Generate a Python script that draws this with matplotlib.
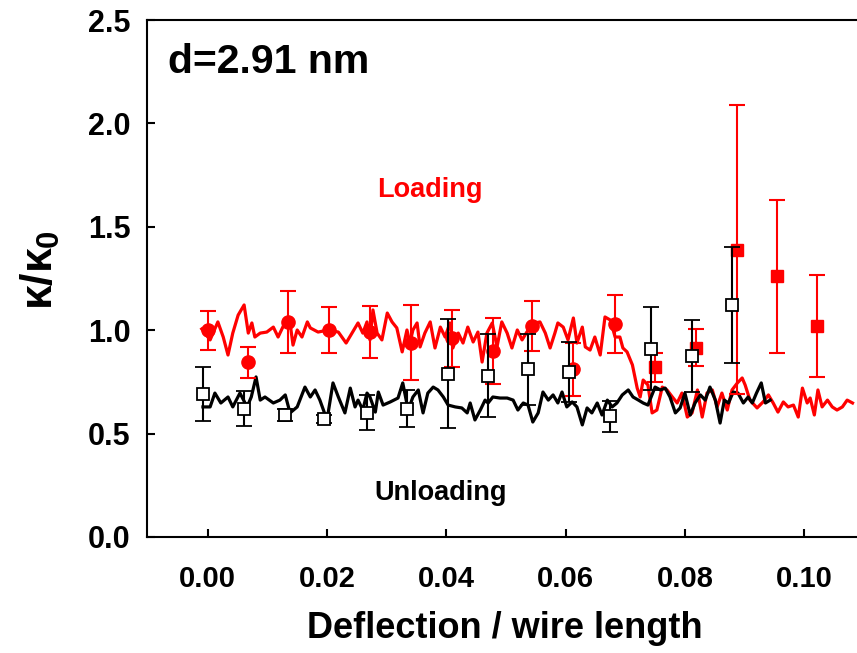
import matplotlib
matplotlib.use("Agg")
import matplotlib.pyplot as plt
from matplotlib import font_manager

# ---- data -------------------------------------------------------------
# continuous loading trace (red)
loading_x = [-0.0010, 0.0004, 0.0009, 0.0017, 0.0026, 0.0034, 0.0042, 0.0051, 0.0061, 0.0068,
             0.0074, 0.0079, 0.0088, 0.0099, 0.0110, 0.0118, 0.0130, 0.0138, 0.0143, 0.0150,
             0.0158, 0.0167, 0.0172, 0.0185, 0.0202, 0.0219, 0.0232, 0.0242, 0.0252, 0.0260,
             0.0267, 0.0272, 0.0277, 0.0284, 0.0292, 0.0301, 0.0309, 0.0317, 0.0326, 0.0334,
             0.0339, 0.0344, 0.0351, 0.0356, 0.0364, 0.0373, 0.0381, 0.0390, 0.0398, 0.0406,
             0.0411, 0.0420, 0.0428, 0.0436, 0.0445, 0.0453, 0.0460, 0.0468, 0.0477, 0.0485,
             0.0493, 0.0502, 0.0510, 0.0519, 0.0527, 0.0535, 0.0540, 0.0549, 0.0557, 0.0566,
             0.0574, 0.0582, 0.0587, 0.0596, 0.0604, 0.0613, 0.0619, 0.0628, 0.0633, 0.0641,
             0.0649, 0.0658, 0.0666, 0.0675, 0.0683, 0.0691, 0.0696, 0.0703, 0.0712, 0.0720,
             0.0725, 0.0730, 0.0738, 0.0745, 0.0753, 0.0762, 0.0770, 0.0779, 0.0787, 0.0795,
             0.0804, 0.0812, 0.0821, 0.0829, 0.0837, 0.0846, 0.0854, 0.0862, 0.0871, 0.0879,
             0.0888, 0.0896, 0.0901, 0.0909, 0.0921, 0.0931, 0.0940, 0.0948, 0.0956, 0.0965,
             0.0973, 0.0982, 0.0990, 0.0997, 0.1005, 0.1010, 0.1017, 0.1023, 0.1030, 0.1039,
             0.1047, 0.1055, 0.1064, 0.1072, 0.1081]
loading_y = [1.006, 0.953, 0.986, 1.040, 0.967, 0.880, 0.986, 1.073, 1.122, 0.986,
             1.035, 0.967, 0.986, 0.991, 1.015, 0.967, 1.040, 1.035, 0.928, 1.001,
             0.967, 1.040, 1.011, 0.991, 1.001, 0.991, 0.938, 0.986, 1.035, 0.986,
             1.040, 0.953, 1.098, 0.986, 0.953, 1.083, 1.040, 1.011, 0.895, 1.001,
             0.938, 1.001, 1.035, 0.919, 0.986, 1.040, 0.914, 1.015, 0.967, 1.035,
             0.914, 0.986, 0.938, 1.015, 0.943, 0.991, 0.846, 0.986, 1.035, 0.919,
             1.040, 0.986, 0.914, 1.001, 0.953, 0.991, 1.011, 1.035, 1.040, 0.986,
             0.914, 0.986, 1.035, 1.015, 0.953, 1.059, 0.938, 1.015, 0.919, 0.904,
             0.967, 0.880, 1.064, 1.049, 0.967, 0.967, 0.914, 0.895, 0.832, 0.720,
             0.677, 0.759, 0.735, 0.600, 0.614, 0.725, 0.711, 0.677, 0.648, 0.696,
             0.580, 0.600, 0.711, 0.580, 0.696, 0.711, 0.629, 0.696, 0.614, 0.711,
             0.745, 0.769, 0.735, 0.662, 0.624, 0.653, 0.687, 0.648, 0.604, 0.653,
             0.629, 0.638, 0.580, 0.720, 0.648, 0.672, 0.590, 0.711, 0.629, 0.662,
             0.629, 0.614, 0.629, 0.662, 0.648]

# continuous unloading trace (black)
unloading_x = [-0.0008, 0.0004, 0.0012, 0.0022, 0.0034, 0.0042, 0.0054, 0.0066, 0.0073, 0.0081,
               0.0088, 0.0096, 0.0110, 0.0121, 0.0130, 0.0138, 0.0150, 0.0163, 0.0172, 0.0180,
               0.0188, 0.0200, 0.0210, 0.0219, 0.0230, 0.0239, 0.0247, 0.0252, 0.0260, 0.0267,
               0.0272, 0.0281, 0.0286, 0.0294, 0.0306, 0.0319, 0.0327, 0.0336, 0.0344, 0.0353,
               0.0361, 0.0369, 0.0378, 0.0386, 0.0395, 0.0403, 0.0415, 0.0426, 0.0435, 0.0440,
               0.0448, 0.0457, 0.0465, 0.0470, 0.0478, 0.0490, 0.0502, 0.0512, 0.0520, 0.0529,
               0.0537, 0.0545, 0.0554, 0.0562, 0.0571, 0.0579, 0.0587, 0.0594, 0.0602, 0.0611,
               0.0619, 0.0628, 0.0636, 0.0644, 0.0653, 0.0661, 0.0670, 0.0678, 0.0686, 0.0695,
               0.0705, 0.0713, 0.0722, 0.0730, 0.0738, 0.0750, 0.0759, 0.0767, 0.0775, 0.0784,
               0.0792, 0.0800, 0.0809, 0.0817, 0.0826, 0.0834, 0.0842, 0.0851, 0.0859, 0.0866,
               0.0873, 0.0881, 0.0889, 0.0898, 0.0906, 0.0913, 0.0920, 0.0928, 0.0935, 0.0943]
unloading_y = [0.629, 0.629, 0.696, 0.648, 0.677, 0.629, 0.696, 0.629, 0.677, 0.774,
               0.662, 0.677, 0.648, 0.662, 0.687, 0.600, 0.629, 0.725, 0.677, 0.711,
               0.662, 0.566, 0.745, 0.677, 0.600, 0.720, 0.629, 0.662, 0.614, 0.696,
               0.677, 0.604, 0.701, 0.638, 0.653, 0.672, 0.745, 0.614, 0.677, 0.711,
               0.600, 0.696, 0.725, 0.711, 0.677, 0.638, 0.629, 0.624, 0.600, 0.648,
               0.566, 0.614, 0.662, 0.648, 0.677, 0.672, 0.672, 0.662, 0.614, 0.648,
               0.638, 0.556, 0.600, 0.701, 0.662, 0.687, 0.648, 0.701, 0.629, 0.653,
               0.629, 0.542, 0.624, 0.600, 0.648, 0.590, 0.662, 0.629, 0.648, 0.687,
               0.711, 0.677, 0.662, 0.648, 0.638, 0.725, 0.711, 0.720, 0.677, 0.600,
               0.624, 0.696, 0.590, 0.648, 0.687, 0.662, 0.725, 0.662, 0.551, 0.662,
               0.648, 0.701, 0.696, 0.648, 0.677, 0.648, 0.696, 0.745, 0.648, 0.662]

# averaged loading points (circles, then squares past the jump)
load_circle_x = [0.0000, 0.0068, 0.0135, 0.0204, 0.0272, 0.0341, 0.0410, 0.0478, 0.0544, 0.0612, 0.0683]
load_circle_y = [1.00, 0.846, 1.04, 1.00, 0.99, 0.94, 0.96, 0.90, 1.02, 0.81, 1.03]
load_circle_err = [0.094, 0.075, 0.15, 0.11, 0.125, 0.18, 0.14, 0.16, 0.12, 0.13, 0.14]

load_square_x = [0.0750, 0.0819, 0.0887, 0.0954, 0.1022]
load_square_y = [0.82, 0.915, 1.39, 1.26, 1.02]
load_square_err = [0.07, 0.09, 0.70, 0.37, 0.245]

# averaged unloading points (open squares)
unload_x = [-0.0008, 0.0061, 0.0130, 0.0195, 0.0267, 0.0334, 0.0403, 0.0470, 0.0537, 0.0606,
            0.0675, 0.0743, 0.0812, 0.0879]
unload_y = [0.69, 0.62, 0.59, 0.57, 0.60, 0.62, 0.79, 0.78, 0.81, 0.80, 0.585, 0.91, 0.875, 1.12]
unload_err = [0.13, 0.085, 0.03, 0.02, 0.085, 0.09, 0.265, 0.20, 0.17, 0.145, 0.075, 0.20, 0.175, 0.28]

x_ticks = [0.00, 0.02, 0.04, 0.06, 0.08, 0.10]
x_tick_labels = ["0.00", "0.02", "0.04", "0.06", "0.08", "0.10"]
y_ticks = [0.0, 0.5, 1.0, 1.5, 2.0, 2.5]
y_tick_labels = ["0.0", "0.5", "1.0", "1.5", "2.0", "2.5"]

# ---- styling ----------------------------------------------------------
plt.rcParams["font.family"] = ["Liberation Sans", "DejaVu Sans"]
plt.rcParams["font.weight"] = "bold"
plt.rcParams["mathtext.fontset"] = "custom"
plt.rcParams["mathtext.rm"] = "Liberation Sans:bold"
plt.rcParams["mathtext.it"] = "Liberation Sans:bold"
plt.rcParams["mathtext.bf"] = "Liberation Sans:bold"

# condensed face for the x-axis texts, if present
try:
    font_manager.findfont(font_manager.FontProperties(family="Liberation Sans Narrow", weight="bold"),
                          fallback_to_default=False)
    narrow = ["Liberation Sans Narrow"]
    xtick_size, xlabel_size = 25, 30
except Exception:
    narrow = ["Liberation Sans"]
    xtick_size, xlabel_size = 21, 26

RED = "#ff0000"
W, H = 857, 653

fig = plt.figure(figsize=(W / 100, H / 100), dpi=100)
ax = fig.add_axes([147 / W, 116 / H, 723 / W, 517 / H])

ax.plot(loading_x, loading_y, color=RED, lw=2.3, zorder=2)
ax.plot(unloading_x, unloading_y, color="black", lw=2.3, zorder=3)

ax.errorbar(load_circle_x, load_circle_y, yerr=load_circle_err, fmt="o", color=RED,
            ms=9.5, capsize=6, elinewidth=1.5, capthick=1.5, zorder=4)
ax.errorbar(load_square_x, load_square_y, yerr=load_square_err, fmt="s", color=RED,
            ms=8.5, capsize=6, elinewidth=1.5, capthick=1.5, zorder=4)
ax.errorbar(unload_x, unload_y, yerr=unload_err, fmt="s", color="black", mfc="white",
            mec="black", mew=1.3, ms=8.5, capsize=6, elinewidth=1.5, capthick=1.5, zorder=5)

ax.set_xlim(-0.01018, 0.11103)
ax.set_ylim(0, 2.5)
ax.set_xticks(x_ticks)
ax.set_xticklabels(x_tick_labels, family=narrow, fontsize=xtick_size, fontweight="bold")
ax.set_yticks(y_ticks)
ax.set_yticklabels(y_tick_labels, fontsize=22, fontweight="bold")

for s in ax.spines.values():
    s.set_linewidth(1.5)
ax.tick_params(direction="in", length=6, width=1.5)
ax.tick_params(axis="x", pad=20)
ax.tick_params(axis="y", pad=12)

fig.text(168 / W, 1 - 62 / H, "d=2.91 nm", fontsize=29.5, fontweight="bold", va="center", ha="left")
fig.text(430 / W, 1 - 190 / H, "Loading", fontsize=19.5, fontweight="bold", color=RED,
         va="center", ha="center")
fig.text(441 / W, 1 - 493 / H, "Unloading", fontsize=19.5, fontweight="bold",
         va="center", ha="center")
fig.text(505 / W, 1 - 628 / H, "Deflection / wire length", family=narrow, fontsize=xlabel_size,
         fontweight="bold", va="center", ha="center")
fig.text(40 / W, 1 - 270 / H, r"$\kappa/\kappa_0$", fontsize=32, rotation=90,
         va="center", ha="center")

fig.savefig("out.png", dpi=100)
